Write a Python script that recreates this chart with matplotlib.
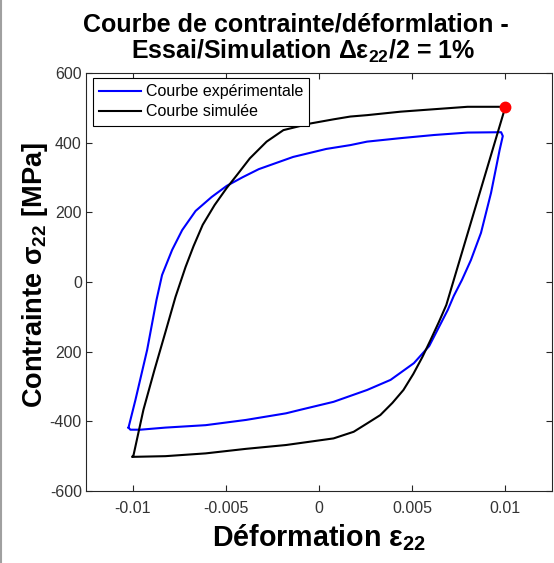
import matplotlib
matplotlib.use("Agg")
from matplotlib import pyplot as plt
from matplotlib.lines import Line2D

plt.rcParams['font.family'] = ['Liberation Sans', 'DejaVu Sans']

# experimental loop: loading branch, then unloading back to the left corner
exp_strain = [-0.01022, -0.00985, -0.00922, -0.00872, -0.00842, -0.00788, -0.00734,
              -0.00662, -0.00576, -0.00495, -0.00409, -0.00323, -0.00139, 0.00039,
              0.00168, 0.00258, 0.00438, 0.00617, 0.00797, 0.00977,
              0.00986, 0.00969, 0.00923, 0.00869, 0.00815, 0.00767, 0.00723,
              0.00691, 0.00591, 0.00509, 0.00384, 0.00258, 0.00078, -0.00101,
              -0.00177, -0.00392, -0.00608, -0.00824, -0.00958, -0.01012, -0.01022]
exp_stress = [-418, -339, -195, -52, 20, 92, 149,
              204, 244, 276, 301, 324, 359, 382,
              393, 403, 413, 422, 429, 430,
              419, 379, 256, 141, 63, 6, -40,
              -80, -184, -233, -281, -310, -344, -367,
              -377, -396, -411, -418, -424, -424, -418]

# simulated loop, starting at the peak
sim_strain = [0.0100, 0.00797, 0.00617, 0.00438, 0.00258, 0.00168, 0.00078,
              -0.00047, -0.00191, -0.00281, -0.00371, -0.00436, -0.00495, -0.0056,
              -0.00624, -0.00673, -0.00716, -0.0077, -0.00824, -0.00883, -0.00942,
              -0.00995, -0.01003,
              -0.00824, -0.00608, -0.00392, -0.00177, 0.00078, 0.00186, 0.00258,
              0.00329, 0.00394, 0.00453, 0.00506, 0.00555, 0.00598, 0.00643,
              0.00683, 0.0100]
sim_stress = [503, 503, 496, 489, 479, 475, 467,
              455, 436, 403, 355, 310, 270, 221,
              164, 103, 43, -43, -144, -253, -367,
              -497, -502,
              -500, -492, -479, -468, -449, -430, -406,
              -382, -347, -310, -264, -215, -167, -115,
              -66, 503]

peak = (0.0100, 503)

xticks = [-0.01, -0.005, 0, 0.005, 0.01]
xticklabels = ['-0.01', '-0.005', '0', '0.005', '0.01']
yticks = [-600, -400, -200, 0, 200, 400, 600]
yticklabels = ['-600', '-400', '200', '0', '200', '400', '600']

fig = plt.figure(figsize=(5.54, 5.63), dpi=100)
ax = fig.add_axes([86 / 554, 1 - 491 / 563, 466 / 554, 418 / 563])

ax.plot(exp_strain, exp_stress, color='#0000ff', lw=1.5, label='Courbe expérimentale')
ax.plot(sim_strain, sim_stress, color='black', lw=1.5, label='Courbe simulée')
ax.plot(*peak, 'o', color='red', markersize=7.5)

ax.set_xlim(-0.0125, 0.0125)
ax.set_ylim(-600, 600)
ax.set_xticks(xticks)
ax.set_xticklabels(xticklabels)
ax.set_yticks(yticks)
ax.set_yticklabels(yticklabels)
ax.tick_params(direction='in', top=True, right=True, length=4, width=0.8,
               labelsize=11.5, labelcolor='#333333', color='#262626')
ax.tick_params(axis='x', pad=7)
ax.tick_params(axis='y', pad=3)
for s in ax.spines.values():
    s.set_color('#262626')
    s.set_linewidth(0.8)

ax.set_xlabel(r'Déformation ε$\mathregular{_{22}}$', fontsize=20.6, fontweight='bold',
              labelpad=5)
ax.set_ylabel(r'Contrainte σ$\mathregular{_{22}}$ [MPa]', fontsize=19.5, fontweight='bold')
ax.yaxis.set_label_coords(-0.077, 0.517)

leg = ax.legend(loc='upper left', bbox_to_anchor=(0.015, 0.988), borderaxespad=0,
                fontsize=11.5, handlelength=2.6, handletextpad=0.3, labelspacing=0.3,
                borderpad=0.4, fancybox=False, framealpha=1)
leg.get_frame().set_edgecolor('black')
leg.get_frame().set_linewidth(0.8)

fig.text(296 / 554, 1 - 12 / 563, 'Courbe de contrainte/déformlation -',
         ha='center', va='top', fontsize=18, fontweight='bold')
fig.text(303 / 554, 1 - 38 / 563, r'Essai/Simulation Δε$\mathregular{_{22}}$/2 = 1%',
         ha='center', va='top', fontsize=18, fontweight='bold')

# thin grey edge on the left
fig.add_artist(Line2D([0.002, 0.002], [0, 1], color='#a0a0a0', lw=1.5))

fig.savefig('out.png', dpi=100)
